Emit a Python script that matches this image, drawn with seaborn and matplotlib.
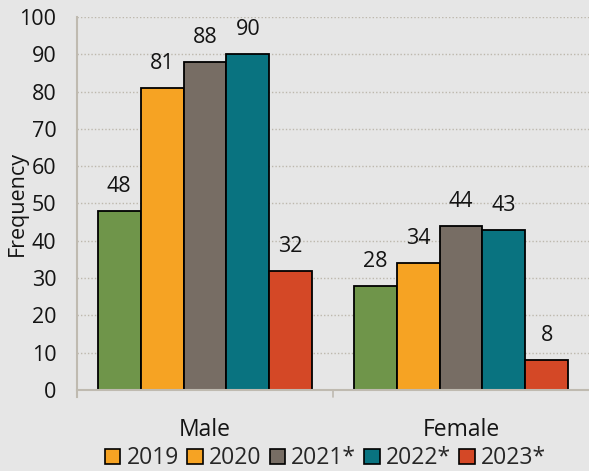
import matplotlib
matplotlib.use("Agg")
import matplotlib.pyplot as plt
import matplotlib.patches as mpatches
import seaborn as sns
import pandas as pd

categories = ["Male", "Female"]
years = ["2019", "2020", "2021*", "2022*", "2023*"]
male = [48, 81, 88, 90, 32]
female = [28, 34, 44, 43, 8]
colors = ["#6F954A", "#F6A323", "#776D64", "#097380", "#D44826"]
legend_colors = ["#F6A323", "#F6A323", "#776D64", "#097380", "#D44826"]
yticks = [0, 10, 20, 30, 40, 50, 60, 70, 80, 90, 100]

rows = []
for cat, vals in zip(categories, [male, female]):
    for y, v in zip(years, vals):
        rows.append({"Gender": cat, "Year": y, "Frequency": v})
df = pd.DataFrame(rows)

sns.set_style("white")
plt.rcParams["font.family"] = ["Open Sans", "DejaVu Sans"]

FS = 15.5
FS2 = 16.5
txt = "#141414"
bg = "#E6E6E6"
axis_col = "#BFBAB0"
fig = plt.figure(figsize=(5.89, 4.71), dpi=100, facecolor=bg)
ax = fig.add_axes([0.1307, 0.172, 0.8693, 0.792])
ax.set_facecolor(bg)

sns.barplot(data=df, x="Gender", y="Frequency", hue="Year", order=categories,
            hue_order=years, palette=colors, saturation=1, width=0.837, gap=0,
            edgecolor="black", linewidth=1.3, ax=ax, legend=False, zorder=3)

for cont in ax.containers:
    ax.bar_label(cont, padding=10, fontsize=FS, color=txt)

ax.set_ylim(0, 100)
ax.set_xlim(-0.5, 1.5)
ax.set_yticks(yticks)
ax.set_yticklabels([str(t) for t in yticks], fontsize=FS, color=txt)
ax.set_xticks([0, 1])
ax.set_xticklabels(categories, fontsize=FS2, color=txt)
ax.tick_params(axis="x", length=0, pad=20)
ax.tick_params(axis="y", length=5.8, width=1.2, color=axis_col, pad=9)
ax.yaxis.grid(True, linestyle=(0, (1, 1.5)), color="#BDB8AD", linewidth=1.0, zorder=0)
ax.set_axisbelow(True)
ax.set_xlabel("")
ax.set_ylabel("Frequency", fontsize=FS, color=txt)
ax.yaxis.set_label_coords(-0.096, 0.5)

for s in ["top", "right"]:
    ax.spines[s].set_visible(False)
ax.spines["left"].set_color(axis_col)
ax.spines["left"].set_linewidth(1.5)
ax.spines["left"].set_bounds(-2, 100)
ax.spines["bottom"].set_color(axis_col)
ax.spines["bottom"].set_linewidth(1.5)
ax.spines["left"].set_zorder(4)
ax.spines["bottom"].set_zorder(4)
ax.plot([0.5, 0.5], [0, -2], color=axis_col, lw=1.2, clip_on=False, zorder=4)

handles = [mpatches.Patch(facecolor=c, edgecolor="black", linewidth=1.2, label=y)
           for c, y in zip(legend_colors, years)]
fig.legend(handles=handles, loc="center", bbox_to_anchor=(0.553, 0.027), ncol=5,
           frameon=False, fontsize=FS2, handlelength=0.66, handleheight=0.66,
           handletextpad=0.28, columnspacing=0.36, borderaxespad=0)

fig.savefig("out.png", dpi=100, facecolor=bg)
